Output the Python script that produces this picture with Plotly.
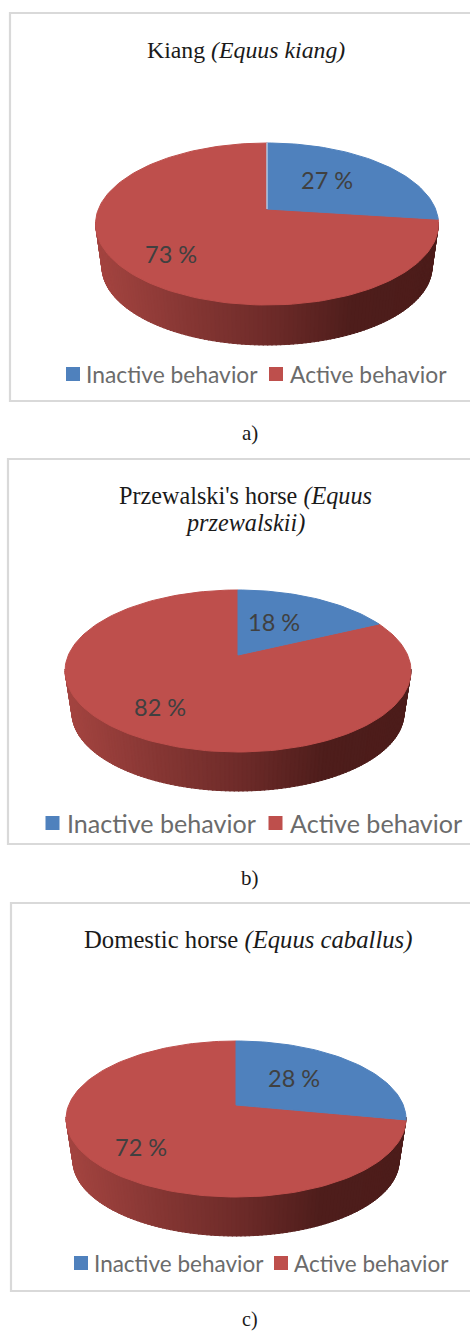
import math
import plotly.graph_objects as go

# ---------- data ----------
species_names = ["Kiang", "Przewalski's horse", "Domestic horse"]
inactive_values = [27, 18, 28]
active_values = [73, 82, 72]
category_labels = ["Inactive behavior", "Active behavior"]
title_lines = [
    ["Kiang <i>(Equus kiang)</i>"],
    ["Przewalski's horse <i>(Equus</i>", "<i>przewalskii)</i>"],
    ["Domestic horse <i>(Equus caballus)</i>"],
]
captions = ["a)", "b)", "c)"]

# ---------- page layout (pixels) ----------
W, H = 470, 1332
BLUE, RED = "#4F81BD", "#BE4F4C"
FRAME = "#D9D9D9"
SERIF = "Liberation Serif, Times New Roman, serif"
SANS = "Lato, Carlito, Calibri, sans-serif"

panels = [
    dict(frame=(10, 13, 401), cx=267, cy=224, rx=171.5, ry=81, apex=209, depth_y=267, rxb=165, ryb=78,
         title_x=246, title_y=[50], title_size=23.8, cap=(250, 433), cap_size=21,
         lab_in=(327, 180), lab_out=(171, 254),
         leg_y=374, sq=(73, 276), txt=(84, 288), leg_size=22.8, divider=True),
    dict(frame=(8, 459, 844), cx=238, cy=671, rx=173, ry=81, apex=655, depth_y=713, rxb=166, ryb=78,
         title_x=245, title_y=[496, 523], title_size=24.2, cap=(250, 878), cap_size=21,
         lab_in=(274, 622), lab_out=(160, 707),
         leg_y=823, sq=(52.5, 275.5), txt=(65, 288), leg_size=25.1, divider=False),
    dict(frame=(11, 903, 1291), cx=236, cy=1119, rx=170, ry=78, apex=1105, depth_y=1161, rxb=163, ryb=75,
         title_x=248, title_y=[940], title_size=24.7, cap=(250, 1319), cap_size=20,
         lab_in=(294, 1078), lab_out=(141, 1147),
         leg_y=1263, sq=(81, 281), txt=(92, 292), leg_size=22.5, divider=False),
]

WALL_STOPS = [(0.0, (164, 68, 64)), (0.25, (135, 55, 52)), (0.5, (110, 43, 41)),
              (0.75, (78, 29, 27)), (1.0, (76, 28, 26))]


def wall_colour(t):
    for (a, ca), (b, cb) in zip(WALL_STOPS, WALL_STOPS[1:]):
        if t <= b:
            f = (t - a) / (b - a)
            return "rgb(%d,%d,%d)" % tuple(round(ca[i] + (cb[i] - ca[i]) * f) for i in range(3))
    return "rgb(76,28,26)"


def rim_point(p, pct):
    """Where the slice boundary at pct % (clockwise from 12 o'clock) meets the top ellipse."""
    th = math.radians(pct * 3.6)
    dx = math.sin(th)
    dy = -math.cos(th) * p["ry"] / p["rx"]
    ox, oy = 0.0, p["apex"] - p["cy"]
    a = (dx / p["rx"]) ** 2 + (dy / p["ry"]) ** 2
    b = 2 * (ox * dx / p["rx"] ** 2 + oy * dy / p["ry"] ** 2)
    c = (ox / p["rx"]) ** 2 + (oy / p["ry"]) ** 2 - 1
    s = (-b + math.sqrt(b * b - 4 * a * c)) / (2 * a)
    return p["cx"] + s * dx, p["apex"] + s * dy


def slice_path(p, start, end):
    n = max(8, int((end - start) * 2))
    pts = [rim_point(p, start + (end - start) * i / n) for i in range(n + 1)]
    xs = [p["cx"]] + [q[0] for q in pts] + [p["cx"]]
    ys = [p["apex"]] + [q[1] for q in pts] + [p["apex"]]
    return xs, ys


fig = go.Figure()


def poly(xs, ys, colour, edge=None):
    fig.add_trace(go.Scatter(x=xs, y=ys, mode="lines", fill="toself", fillcolor=colour,
                             line=dict(color=edge or colour, width=1),
                             hoverinfo="skip", showlegend=False))


def note(x, y, text, size, colour, family, anchor="center"):
    fig.add_annotation(x=x, y=y, xref="x", yref="y", text=text, showarrow=False,
                       xanchor=anchor, yanchor="middle",
                       font=dict(size=size, color=colour, family=family))


for i, p in enumerate(panels):
    left, top, bottom = p["frame"]
    fig.add_trace(go.Scatter(x=[W + 10, left, left, W + 10], y=[top, top, bottom, bottom], mode="lines",
                             line=dict(color=FRAME, width=2.2), hoverinfo="skip", showlegend=False))

    # side wall, shaded in thin strips along the lower half of the disc
    n = 120
    for k in range(n):
        a0, a1 = math.pi * k / n, math.pi * (k + 1.3) / n
        a1 = min(a1, math.pi)
        xs = [p["cx"] - p["rx"] * math.cos(a0), p["cx"] - p["rx"] * math.cos(a1),
              p["cx"] - p["rxb"] * math.cos(a1), p["cx"] - p["rxb"] * math.cos(a0)]
        ys = [p["cy"] + p["ry"] * math.sin(a0) - 2, p["cy"] + p["ry"] * math.sin(a1) - 2,
              p["depth_y"] + p["ryb"] * math.sin(a1), p["depth_y"] + p["ryb"] * math.sin(a0)]
        t = (xs[0] - (p["cx"] - p["rx"])) / (2 * p["rx"])
        poly(xs + xs[:1], ys + ys[:1], wall_colour(t))

    inactive = inactive_values[i]
    rx_, ry_ = slice_path(p, inactive, inactive + active_values[i])
    poly(rx_, ry_, RED)
    bx, by = slice_path(p, 0, inactive)
    poly(bx, by, BLUE)
    if p["divider"]:
        fig.add_trace(go.Scatter(x=[p["cx"], p["cx"]], y=[p["apex"], p["cy"] - p["ry"]], mode="lines",
                                 line=dict(color="#E4EAF2", width=1), hoverinfo="skip", showlegend=False))

    note(*p["lab_in"], f"{inactive} %", 23.5, "#404040", SANS)
    note(*p["lab_out"], f"{active_values[i]} %", 23.5, "#404040", SANS)

    for line, y in zip(title_lines[i], p["title_y"]):
        note(p["title_x"], y, line, p["title_size"], "#1A1A1A", SERIF)
    note(*p["cap"], captions[i], p["cap_size"], "#1A1A1A", SERIF)

    for j, (lab, col) in enumerate(zip(category_labels, (BLUE, RED))):
        fig.add_trace(go.Scatter(x=[p["sq"][j]], y=[p["leg_y"]], mode="markers",
                                 marker=dict(symbol="square", size=14, color=col, line=dict(width=0)),
                                 hoverinfo="skip", showlegend=False))
        note(p["txt"][j], p["leg_y"], lab, p["leg_size"], "#6B6B6B", SANS, anchor="left")

fig.update_layout(
    width=W, height=H, margin=dict(l=0, r=0, t=0, b=0),
    paper_bgcolor="white", plot_bgcolor="white", showlegend=False,
    xaxis=dict(range=[0, W], visible=False, fixedrange=True),
    yaxis=dict(range=[H, 0], visible=False, fixedrange=True),
)
fig.write_html("out.html", config={"displayModeBar": False},
               post_script="document.body.style.margin='0';document.body.style.overflow='hidden';")
